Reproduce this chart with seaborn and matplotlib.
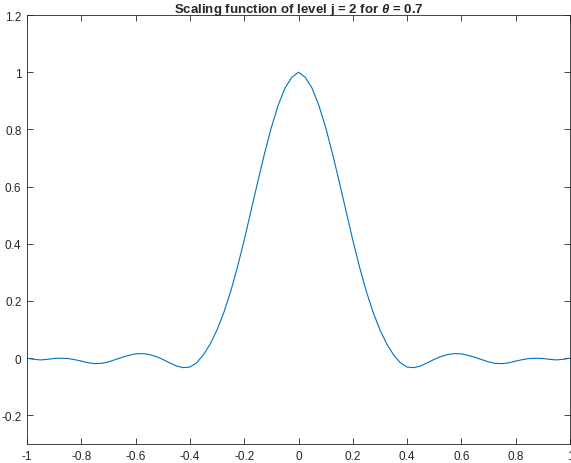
import numpy as np
import pandas as pd
import matplotlib
matplotlib.use('Agg')
import matplotlib.pyplot as plt
import seaborn as sns
from matplotlib.ticker import FuncFormatter

# values, x from -1 to 1 in steps of 0.025
x_vals = np.linspace(-1, 1, 81)
y_vals = [
    0.000, -0.004, -0.006, -0.004, -0.001, 0.000, -0.001, -0.005, -0.010, -0.016,
    -0.019, -0.018, -0.013, -0.005, 0.003, 0.010, 0.015, 0.016, 0.013, 0.006,
    -0.004, -0.016, -0.027, -0.033, -0.031, -0.016, 0.012, 0.050, 0.099, 0.160,
    0.233, 0.318, 0.413, 0.515, 0.617, 0.716, 0.807, 0.884, 0.944, 0.982,
    1.000,
    0.982, 0.944, 0.884, 0.807, 0.716, 0.617, 0.515, 0.413, 0.318, 0.233,
    0.160, 0.099, 0.050, 0.012, -0.016, -0.031, -0.033, -0.027, -0.016, -0.004,
    0.006, 0.013, 0.016, 0.015, 0.010, 0.003, -0.005, -0.013, -0.018, -0.019,
    -0.016, -0.010, -0.005, -0.001, 0.000, -0.001, -0.004, -0.006, -0.004, 0.000,
]
x_ticks = [-1, -0.8, -0.6, -0.4, -0.2, 0, 0.2, 0.4, 0.6, 0.8, 1]
y_ticks = [-0.2, 0, 0.2, 0.4, 0.6, 0.8, 1, 1.2]
title = r'Scaling function of level j = 2 for $\theta$ = 0.7'

sns.set_theme(style='ticks')
plt.rcParams['font.family'] = ['Liberation Sans', 'DejaVu Sans']
plt.rcParams['mathtext.fontset'] = 'custom'
plt.rcParams['mathtext.it'] = 'Liberation Sans:italic:bold'

df = pd.DataFrame({'x': x_vals, 'y': y_vals})

fig = plt.figure(figsize=(5.71, 4.64), dpi=100)
ax = fig.add_axes([27 / 571, 1 - 445 / 464, 543 / 571, 429 / 464])

sns.lineplot(data=df, x='x', y='y', ax=ax, color='#0072BD', linewidth=0.8)

ax.set_xlim(-1, 1)
ax.set_ylim(-0.3, 1.2)
ax.set_xticks(x_ticks)
ax.set_yticks(y_ticks)
fmt = FuncFormatter(lambda v, p: f'{v:g}')
ax.xaxis.set_major_formatter(fmt)
ax.yaxis.set_major_formatter(fmt)
ax.set_xlabel('')
ax.set_ylabel('')

for side in ['top', 'right', 'left', 'bottom']:
    ax.spines[side].set_visible(True)
    ax.spines[side].set_color('#262626')
    ax.spines[side].set_linewidth(0.6)
ax.tick_params(direction='in', length=4, width=0.6, color='#262626',
               labelsize=8.5, labelcolor='#262626', top=True, right=True,
               pad=4)

ax.set_title(title, fontsize=9.5, fontweight='bold', pad=2)

fig.savefig('out.png', dpi=100)
